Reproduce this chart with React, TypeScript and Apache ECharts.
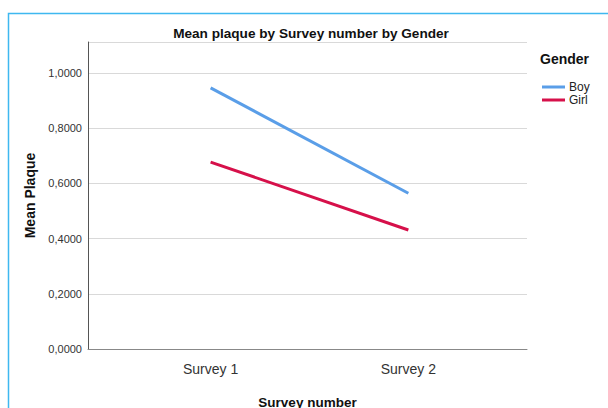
import React, { useEffect, useRef } from "react";
import * as echarts from "echarts";

const categories = ["Survey 1", "Survey 2"];
const boyValues = [0.946, 0.564];
const girlValues = [0.677, 0.431];
const yTicks = [0, 0.2, 0.4, 0.6, 0.8, 1.0];

const FONT = "Liberation Sans, Arial, sans-serif";

export default function App() {
  const ref = useRef<HTMLDivElement>(null);
  useEffect(() => {
    if (!ref.current) return;
    const chart = echarts.init(ref.current, null, { renderer: "svg" });
    const toPts = (vals: number[]) => vals.map((v, i) => [i + 1, v]);
    chart.setOption({
      animation: false,
      backgroundColor: "#ffffff",
      title: {
        text: "Mean plaque by Survey number by Gender",
        left: 306,
        top: 21,
        textAlign: "center",
        textStyle: { fontFamily: FONT, fontSize: 13.6, fontWeight: "bold", color: "#111" },
      },
      legend: {
        data: ["Boy", "Girl"],
        orient: "vertical",
        left: 537,
        top: 76,
        icon: "rect",
        itemWidth: 23,
        itemHeight: 3,
        itemGap: 1,
        textStyle: { fontFamily: FONT, fontSize: 12, color: "#222", padding: [0, 0, 0, -1] },
      },
      graphic: [
        {
          type: "rect",
          shape: { x: 8.5, y: 13.5, width: 700, height: 500 },
          style: { fill: "none", stroke: "#3fb8f0", lineWidth: 1.5 },
          silent: true,
        },
        {
          type: "text",
          x: 540,
          y: 52,
          style: { text: "Gender", fontFamily: FONT, fontSize: 14, fontWeight: "bold", fill: "#111" },
        },
      ],
      grid: { left: 88, top: 42, right: 81, bottom: 59, outerBoundsMode: "none", containLabel: false },
      xAxis: {
        type: "value",
        min: 0.38,
        max: 2.6,
        name: "Survey number",
        nameLocation: "middle",
        nameGap: 46,
        nameTextStyle: { fontFamily: FONT, fontSize: 13.5, fontWeight: "bold", color: "#111" },
        axisLine: { show: true, lineStyle: { color: "#888", width: 1 } },
        axisTick: { show: false },
        splitLine: { show: false },
        axisLabel: {
          customValues: [1, 2],
          formatter: (v: number) => categories[Math.round(v) - 1] ?? "",
          fontFamily: FONT,
          fontSize: 14,
          color: "#333",
          margin: 13,
        },
      },
      yAxis: {
        type: "value",
        min: 0,
        max: 1.112,
        name: "Mean Plaque",
        nameLocation: "middle",
        nameGap: 50,
        nameTextStyle: { fontFamily: FONT, fontSize: 14, fontWeight: "bold", color: "#111" },
        axisLine: { show: true, lineStyle: { color: "#555", width: 1 } },
        axisTick: { show: false },
        splitLine: { show: true, lineStyle: { color: "#d9d9d9", width: 1 } },
        axisLabel: {
          customValues: yTicks,
          formatter: (v: number) => v.toFixed(4).replace(".", ","),
          fontFamily: FONT,
          fontSize: 11,
          color: "#333",
          margin: 6,
        },
        interval: 0.2,
      },
      series: [
        {
          name: "Boy",
          type: "line",
          data: toPts(boyValues),
          showSymbol: false,
          symbol: "none",
          lineStyle: { color: "#5a9ee8", width: 3 },
          itemStyle: { color: "#5a9ee8" },
        },
        {
          name: "Girl",
          type: "line",
          data: toPts(girlValues),
          showSymbol: false,
          symbol: "none",
          lineStyle: { color: "#d6104a", width: 3 },
          itemStyle: { color: "#d6104a" },
        },
      ],
    });
    return () => chart.dispose();
  }, []);
  return (
    <div
      ref={ref}
      style={{ position: "fixed", left: 0, top: 0, width: 608, height: 408 }}
    />
  );
}
